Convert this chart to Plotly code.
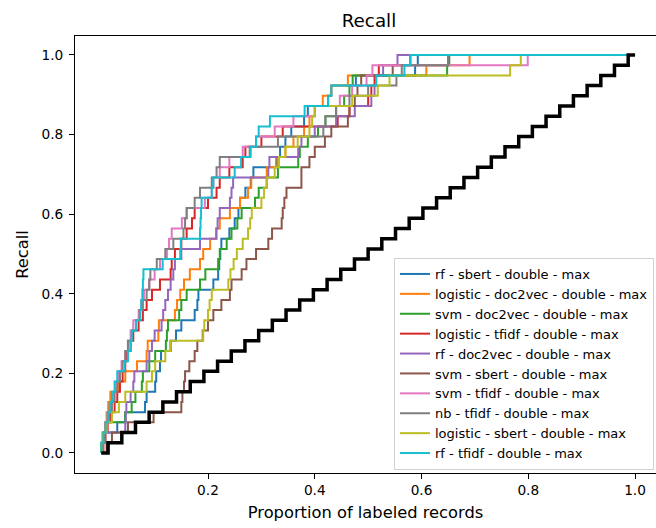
import plotly.graph_objects as go

N_RELEVANT = 39

# proportion of labeled records at which the k-th relevant record was found (k = 1..39)
series_names = [
    "rf - sbert - double - max",
    "logistic - doc2vec - double - max",
    "svm - doc2vec - double - max",
    "logistic - tfidf - double - max",
    "rf - doc2vec - double - max",
    "svm - sbert - double - max",
    "svm - tfidf - double - max",
    "nb - tfidf - double - max",
    "logistic - sbert - double - max",
    "rf - tfidf - double - max",
]
series_colors = ["#1f77b4", "#ff7f0e", "#2ca02c", "#d62728", "#9467bd",
                 "#8c564b", "#e377c2", "#7f7f7f", "#bcbd22", "#17becf"]

rf_sbert = [0.0, 0.005, 0.03, 0.045, 0.082, 0.085, 0.101, 0.103, 0.11, 0.112,
            0.13, 0.14, 0.15, 0.175, 0.18, 0.182, 0.21, 0.219, 0.221, 0.223,
            0.225, 0.24, 0.25, 0.257, 0.26, 0.27, 0.28, 0.285, 0.328, 0.335,
            0.345, 0.356, 0.38, 0.387, 0.425, 0.431, 0.477, 0.588, 0.593]
logistic_doc2vec = [0.0, 0.003, 0.007, 0.01, 0.013, 0.017, 0.032, 0.045, 0.067, 0.085,
                    0.087, 0.107, 0.108, 0.138, 0.142, 0.148, 0.155, 0.166, 0.185, 0.191,
                    0.204, 0.215, 0.222, 0.241, 0.26, 0.275, 0.281, 0.31, 0.33, 0.345,
                    0.36, 0.38, 0.39, 0.40, 0.415, 0.431, 0.462, 0.609, 0.690]
svm_doc2vec = [0.002, 0.005, 0.01, 0.045, 0.057, 0.064, 0.076, 0.078, 0.09, 0.101,
               0.121, 0.123, 0.125, 0.146, 0.15, 0.16, 0.185, 0.195, 0.219, 0.222,
               0.235, 0.244, 0.255, 0.263, 0.288, 0.295, 0.31, 0.331, 0.369, 0.372,
               0.387, 0.406, 0.42, 0.44, 0.455, 0.465, 0.471, 0.648, 0.652]
logistic_tfidf = [0.004, 0.008, 0.012, 0.018, 0.025, 0.03, 0.035, 0.04, 0.045, 0.048,
                  0.055, 0.06, 0.07, 0.078, 0.085, 0.095, 0.11, 0.13, 0.132, 0.138,
                  0.15, 0.16, 0.17, 0.175, 0.2, 0.216, 0.222, 0.24, 0.265, 0.27,
                  0.30, 0.34, 0.443, 0.465, 0.5, 0.506, 0.512, 0.52, 0.579]
rf_doc2vec = [0.003, 0.006, 0.045, 0.046, 0.047, 0.055, 0.06, 0.062, 0.085, 0.09,
              0.095, 0.1, 0.113, 0.116, 0.12, 0.125, 0.13, 0.135, 0.138, 0.15,
              0.185, 0.216, 0.218, 0.222, 0.241, 0.244, 0.247, 0.313, 0.315, 0.369,
              0.375, 0.40, 0.44, 0.475, 0.506, 0.512, 0.515, 0.528, 0.555]
svm_sbert = [0.01, 0.02, 0.05, 0.098, 0.15, 0.152, 0.155, 0.157, 0.165, 0.175,
             0.18, 0.19, 0.2, 0.21, 0.225, 0.241, 0.244, 0.263, 0.272, 0.29,
             0.313, 0.32, 0.338, 0.34, 0.343, 0.347, 0.375, 0.375, 0.39, 0.40,
             0.419, 0.431, 0.462, 0.465, 0.475, 0.48, 0.487, 0.546, 0.650]
svm_tfidf = [0.002, 0.004, 0.008, 0.012, 0.018, 0.022, 0.028, 0.033, 0.038, 0.045,
             0.05, 0.055, 0.06, 0.07, 0.075, 0.08, 0.09, 0.1, 0.11, 0.123,
             0.127, 0.132, 0.151, 0.16, 0.194, 0.207, 0.21, 0.222, 0.24, 0.265,
             0.29, 0.325, 0.36, 0.4, 0.447, 0.47, 0.497, 0.508, 0.799]
nb_tfidf = [0.003, 0.006, 0.01, 0.015, 0.02, 0.025, 0.03, 0.035, 0.04, 0.045,
            0.05, 0.058, 0.065, 0.072, 0.078, 0.085, 0.09, 0.092, 0.104, 0.12,
            0.135, 0.154, 0.157, 0.16, 0.175, 0.185, 0.207, 0.216, 0.222, 0.278,
            0.331, 0.416, 0.42, 0.44, 0.465, 0.50, 0.553, 0.563, 0.650]
logistic_sbert = [0.0, 0.002, 0.01, 0.02, 0.033, 0.045, 0.085, 0.095, 0.101, 0.12,
                  0.129, 0.191, 0.193, 0.2, 0.203, 0.207, 0.238, 0.242, 0.248, 0.254,
                  0.265, 0.275, 0.279, 0.282, 0.30, 0.305, 0.31, 0.325, 0.333, 0.345,
                  0.368, 0.39, 0.395, 0.40, 0.47, 0.518, 0.540, 0.766, 0.786]
rf_tfidf = [0.0, 0.004, 0.008, 0.012, 0.016, 0.02, 0.025, 0.03, 0.044, 0.05,
            0.055, 0.057, 0.065, 0.073, 0.075, 0.077, 0.078, 0.079, 0.115, 0.148,
            0.149, 0.185, 0.186, 0.187, 0.188, 0.207, 0.21, 0.25, 0.262, 0.28,
            0.29, 0.295, 0.316, 0.381, 0.425, 0.431, 0.515, 0.568, 0.579]

series_values = [rf_sbert, logistic_doc2vec, svm_doc2vec, logistic_tfidf, rf_doc2vec,
                 svm_sbert, svm_tfidf, nb_tfidf, logistic_sbert, rf_tfidf]

# random baseline: proportion at which the k-th relevant record is expected
random_baseline = [0.0128, 0.0385, 0.0641, 0.0897, 0.1154, 0.1410, 0.1667, 0.1923,
                   0.2179, 0.2436, 0.2692, 0.2949, 0.3205, 0.3462, 0.3718, 0.3974,
                   0.4231, 0.4487, 0.4744, 0.5000, 0.5256, 0.5513, 0.5769, 0.6026,
                   0.6282, 0.6538, 0.6795, 0.7051, 0.7308, 0.7564, 0.7821, 0.8077,
                   0.8333, 0.8590, 0.8846, 0.9103, 0.9359, 0.9615, 0.9872]

x_ticks = [0.2, 0.4, 0.6, 0.8, 1.0]
x_tick_labels = ["0.2", "0.4", "0.6", "0.8", "1.0"]
y_ticks = [0.0, 0.2, 0.4, 0.6, 0.8, 1.0]
y_tick_labels = ["0.0", "0.2", "0.4", "0.6", "0.8", "1.0"]


def curve(found):
    xs = [0.0] + list(found) + [1.0]
    ys = [0.0] + [(i + 1) / N_RELEVANT for i in range(len(found))] + [1.0]
    return xs, ys


FONT = "DejaVu Sans"
fig = go.Figure()
for name, color, vals in zip(series_names, series_colors, series_values):
    xs, ys = curve(vals)
    fig.add_trace(go.Scatter(x=xs, y=ys, mode="lines", name=name,
                             line=dict(color=color, width=2, shape="hv")))

bx, by = curve(random_baseline)
fig.add_trace(go.Scatter(x=bx, y=by, mode="lines", showlegend=False,
                         line=dict(color="black", width=3.5, shape="hv")))

fig.update_layout(
    width=656, height=528,
    margin=dict(l=75, r=0, t=36, b=55),
    paper_bgcolor="white", plot_bgcolor="white",
    font=dict(family=FONT, size=13.7, color="black"),
    title=dict(text="Recall", x=369 / 656, xanchor="center",
               y=1 - 21 / 528, yanchor="middle", yref="container",
               font=dict(family=FONT, size=18.3, color="black")),
    showlegend=True,
    legend=dict(x=(394 - 75) / 581, y=(473 - 470) / 437, xanchor="left", yanchor="bottom",
                bgcolor="rgba(255,255,255,0.8)", bordercolor="#d0d0d0", borderwidth=1,
                font=dict(family=FONT, size=13, color="black"),
                tracegroupgap=0, itemwidth=30),
)
fig.update_xaxes(range=[-0.0492, 1.0393], tickvals=x_ticks, ticktext=x_tick_labels,
                 showgrid=False, zeroline=False, showline=True, linecolor="black",
                 linewidth=1, mirror=True, ticks="outside", ticklen=5, tickwidth=1,
                 tickcolor="black", tickfont=dict(family=FONT, size=13.7),
                 title=dict(text="Proportion of labeled records", standoff=9,
                            font=dict(family=FONT, size=16.3)))
fig.update_yaxes(range=[-0.0503, 1.0477], tickvals=y_ticks, ticktext=y_tick_labels,
                 showgrid=False, zeroline=False, showline=True, linecolor="black",
                 linewidth=1, mirror=False, ticks="outside", ticklen=5, tickwidth=1,
                 tickcolor="black", tickfont=dict(family=FONT, size=13.7),
                 ticklabelstandoff=3,
                 title=dict(text="Recall", standoff=8, font=dict(family=FONT, size=16.3)))

fig.write_html("out.html")
